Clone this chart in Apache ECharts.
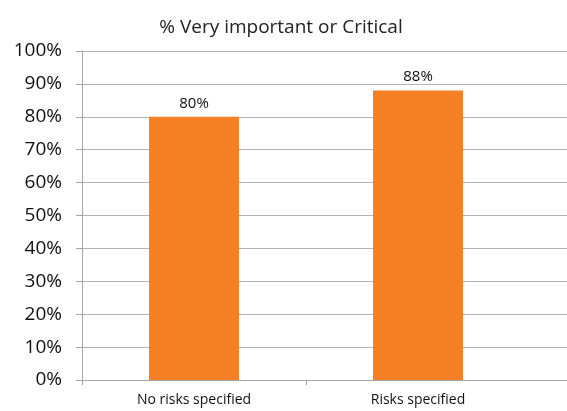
<!DOCTYPE html>
<html>
<head>
<meta charset="utf-8">
<script src="https://cdn.jsdelivr.net/npm/echarts@6/dist/echarts.min.js"></script>
<style>
  html, body { margin: 0; padding: 0; background: #fff; }
  #chart { width: 567px; height: 411px; }
</style>
</head>
<body>
<div id="chart"></div>
<script>
// chart data
var categories = ['No risks specified', 'Risks specified'];
var values = [80, 88];
var yTicks = [0, 10, 20, 30, 40, 50, 60, 70, 80, 90, 100];

var chart = echarts.init(document.getElementById('chart'), null, { renderer: 'canvas' });
var font = '"Open Sans", "Liberation Sans", sans-serif';

var option = {
  animation: false,
  title: {
    text: '% Very important or Critical',
    left: 276,
    textAlign: 'center',
    top: 13,
    textStyle: { fontFamily: font, fontSize: 19, fontWeight: 'normal', color: '#222' }
  },
  grid: [
    // full-width grid: gridlines, bottom line and its ticks
    { left: 82, right: 0, top: 51, bottom: 31 },
    { left: 82, right: 37, top: 51, bottom: 31 }
  ],
  xAxis: [
    {
      gridIndex: 0, type: 'value', min: 0, max: 485,
      axisLine: { show: true, lineStyle: { color: '#a6a6a6', width: 1 } },
      axisTick: { show: true, length: 5, customValues: [0, 224], lineStyle: { color: '#a6a6a6' } },
      axisLabel: { show: false },
      splitLine: { show: false }
    },
    {
      gridIndex: 1,
      type: 'category',
      data: categories,
      axisLine: { show: false },
      axisTick: { show: false },
      axisLabel: { fontFamily: font, fontSize: 14, color: '#111', margin: 13 }
    }
  ],
  yAxis: [
    {
      gridIndex: 0, type: 'value', min: 0, max: 100, interval: 10,
      axisLine: { show: false }, axisTick: { show: false }, axisLabel: { show: false },
      splitLine: { lineStyle: { color: '#b3b3b3', width: 1 } }
    },
    {
      gridIndex: 1, type: 'value', min: yTicks[0], max: yTicks[yTicks.length - 1], interval: 10,
      axisLine: { show: true, lineStyle: { color: '#a6a6a6', width: 1 } },
      axisTick: { show: true, length: 6, lineStyle: { color: '#a6a6a6' } },
      splitLine: { show: false },
      axisLabel: {
        fontFamily: font, fontSize: 19, color: '#111', margin: 20,
        formatter: function (v) { return v + '%'; }
      }
    }
  ],
  series: [
    {
      type: 'bar',
      xAxisIndex: 1,
      yAxisIndex: 1,
      data: values,
      barWidth: 90,
      itemStyle: { color: '#F58025' },
      label: {
        show: true,
        position: 'top',
        distance: 6,
        fontFamily: font,
        fontSize: 15,
        color: '#111',
        formatter: '{c}%'
      }
    }
  ]
};

chart.setOption(option);
</script>
</body>
</html>
